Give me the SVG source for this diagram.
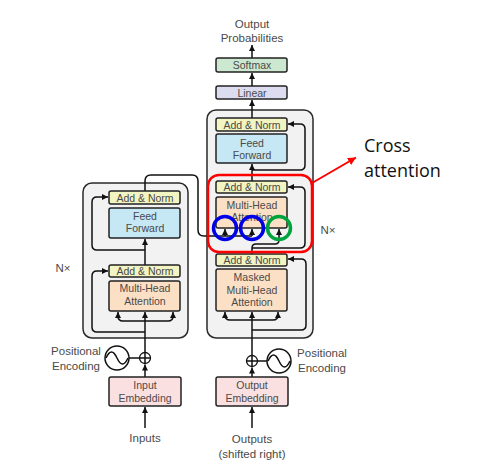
<svg xmlns="http://www.w3.org/2000/svg" width="493" height="474" viewBox="0 0 493 474">
<defs>
<marker id="ah" markerUnits="userSpaceOnUse" markerWidth="7" markerHeight="6" refX="6" refY="3" orient="auto"><path d="M0,0 L6,3 L0,6 z" fill="#111"/></marker>
<marker id="rh" markerUnits="userSpaceOnUse" markerWidth="9" markerHeight="8" refX="8" refY="4" orient="auto"><path d="M0,0 L8,4 L0,8 z" fill="#f00"/></marker>
<style>
.stack{fill:#f2f2f2;stroke:#2a2a2a;stroke-width:1.5}
.box{stroke:#222;stroke-width:1.5}
.an{fill:#f2f4c2}
.ff{fill:#c6e7f4}
.mha{fill:#fce0c5}
.lin{fill:#dcdcf1}
.sm{fill:#cde8d1}
.emb{fill:#fbe0e1}
text{font-family:"Liberation Sans",Arial,sans-serif;fill:#4a4a4a;text-anchor:middle}
.t{font-size:10.5px}
.l{font-size:11.5px}
.w{fill:none;stroke:#111;stroke-width:1.5}
.a{fill:none;stroke:#111;stroke-width:1.5;marker-end:url(#ah)}
</style>
</defs>
<rect width="493" height="474" fill="#fff"/>

<g id="encoder-stack"><rect class="stack" x="83" y="183" width="105" height="155" rx="9"/></g>
<g id="decoder-stack"><rect class="stack" x="207" y="110" width="106" height="228" rx="9"/></g>

<g id="connectors">
<!-- encoder -->
<path class="a" d="M145,428 V407"/>
<path class="a" d="M145,377 V364.5"/>
<path class="a" d="M145,352.5 V312"/>
<path class="a" d="M145,332 H97 Q92,332 92,327 V276 Q92,271 97,271 H108"/>
<path class="w" d="M145,321 H123 Q118,321 118,316"/>
<path class="a" d="M118,318 V312"/>
<path class="w" d="M145,321 H168 Q173,321 173,316"/>
<path class="a" d="M173,318 V312"/>
<path class="a" d="M145,265 V239"/>
<path class="a" d="M145,250 H97 Q92,250 92,245 V202 Q92,197 97,197 H108"/>
<path class="w" d="M145,191 V181 Q145,175 151,175 H192 Q198,175 198,181 V230 Q198,236 204,236 H252"/>
<path class="a" d="M225,236 V229"/>
<path class="a" d="M252,236 V229"/>
<!-- decoder -->
<path class="a" d="M252,428 V407"/>
<path class="a" d="M252,377 V367.5"/>
<path class="a" d="M252,355.5 V312"/>
<path class="a" d="M252,330 H301 Q306,330 306,325 V264 Q306,259 301,259 H288"/>
<path class="w" d="M252,320 H230 Q225,320 225,315"/>
<path class="a" d="M225,317 V312"/>
<path class="w" d="M252,320 H273 Q278,320 278,315"/>
<path class="a" d="M278,317 V312"/>
<path class="w" d="M252,254 V248 Q252,244 256,244 H275 Q279,244 279,240"/>
<path class="a" d="M279,241 V229"/>
<path class="a" d="M252,248 H300 Q305,248 305,243 V192 Q305,187 300,187 H288"/>
<path class="a" d="M252,181 V164"/>
<path class="a" d="M252,170 H300 Q305,170 305,165 V129 Q305,124 300,124 H288"/>
<path class="a" d="M252,118 V100"/>
<path class="a" d="M252,86 V73"/>
<path class="a" d="M252,58 V45"/>
</g>

<g id="enc-addnorm2"><rect class="box an" x="109" y="191" width="71" height="13" rx="2"/><text class="t" x="145" y="201.5">Add &amp; Norm</text></g>
<g id="enc-ff"><rect class="box ff" x="109" y="208" width="71" height="30" rx="2"/><text class="t" x="145" y="220">Feed</text><text class="t" x="145" y="232">Forward</text></g>
<g id="enc-addnorm1"><rect class="box an" x="109" y="265" width="71" height="12" rx="2"/><text class="t" x="145" y="275">Add &amp; Norm</text></g>
<g id="enc-mha"><rect class="box mha" x="109" y="281" width="71" height="30" rx="2"/><text class="t" x="145" y="292">Multi-Head</text><text class="t" x="145" y="305">Attention</text></g>

<g id="dec-addnorm3"><rect class="box an" x="216" y="118" width="71" height="13" rx="2"/><text class="t" x="252" y="128.5">Add &amp; Norm</text></g>
<g id="dec-ff"><rect class="box ff" x="216" y="134" width="71" height="29" rx="2"/><text class="t" x="252" y="147">Feed</text><text class="t" x="252" y="158.5">Forward</text></g>
<g id="dec-addnorm2"><rect class="box an" x="216" y="181" width="71" height="12" rx="2"/><text class="t" x="252" y="191">Add &amp; Norm</text></g>
<g id="dec-mha"><rect class="box mha" x="216" y="197" width="71" height="31" rx="2"/><text class="t" x="252" y="209">Multi-Head</text><text class="t" x="252" y="221">Attention</text></g>
<g id="dec-addnorm1"><rect class="box an" x="216" y="254" width="71" height="12" rx="2"/><text class="t" x="252" y="264">Add &amp; Norm</text></g>
<g id="dec-masked"><rect class="box mha" x="216" y="269" width="71" height="42" rx="2"/><text class="t" x="252" y="281">Masked</text><text class="t" x="252" y="294">Multi-Head</text><text class="t" x="252" y="306">Attention</text></g>

<g id="linear"><rect class="box lin" x="216" y="86" width="71" height="13" rx="2"/><text class="t" x="252" y="96.5">Linear</text></g>
<g id="softmax"><rect class="box sm" x="216" y="58" width="71" height="14" rx="2"/><text class="t" x="252" y="68.5">Softmax</text></g>
<g id="out-prob"><text class="l" x="252" y="28">Output</text><text class="l" x="252" y="42">Probabilities</text></g>

<g id="input-emb"><rect class="box emb" x="109" y="377" width="72" height="29" rx="2"/><text class="t" x="145" y="389">Input</text><text class="t" x="145" y="402">Embedding</text></g>
<g id="output-emb"><rect class="box emb" x="216" y="377" width="72" height="29" rx="2"/><text class="t" x="252" y="389">Output</text><text class="t" x="252" y="402">Embedding</text></g>
<g id="inputs"><text class="l" x="145" y="442">Inputs</text></g>
<g id="outputs"><text class="l" x="252" y="443">Outputs</text><text class="l" x="252" y="458">(shifted right)</text></g>

<g id="enc-pe">
<circle cx="117" cy="358" r="12" fill="#fff" stroke="#111" stroke-width="1.5"/>
<path class="w" d="M106,358 Q111.5,346 117,358 Q122.5,370 128,358"/>
<path class="w" d="M129,358 H139.5"/>
<circle cx="145" cy="358" r="5.5" fill="#fff" stroke="#111" stroke-width="1.3"/>
<path class="w" stroke-width="1.2" d="M139.5,358 H150.5 M145,352.5 V363.5"/>
<text class="l" x="76" y="355">Positional</text><text class="l" x="76" y="370">Encoding</text>
</g>
<g id="dec-pe">
<circle cx="279" cy="361" r="12" fill="#fff" stroke="#111" stroke-width="1.5"/>
<path class="w" d="M268,361 Q273.5,349 279,361 Q284.5,373 290,361"/>
<path class="w" d="M257.5,361 H267"/>
<circle cx="252" cy="361" r="5.5" fill="#fff" stroke="#111" stroke-width="1.3"/>
<path class="w" stroke-width="1.2" d="M246.5,361 H257.5 M252,355.5 V366.5"/>
<text class="l" x="322" y="357">Positional</text><text class="l" x="322" y="372">Encoding</text>
</g>

<g id="nx-left"><text class="l" x="63" y="272">N×</text></g>
<g id="nx-right"><text class="l" x="328" y="234">N×</text></g>

<g id="highlight">
<rect x="208" y="175" width="104" height="77" rx="11" fill="none" stroke="#f00" stroke-width="2.5"/>
<circle cx="225" cy="228" r="11.5" fill="none" stroke="#0000e6" stroke-width="3.5"/>
<circle cx="252" cy="228" r="11.5" fill="none" stroke="#0000e6" stroke-width="3.5"/>
<circle cx="279" cy="228" r="11.5" fill="none" stroke="#00a33c" stroke-width="3.5"/>
<path d="M312,183 L356,157.5" stroke="#f00" stroke-width="2" fill="none" marker-end="url(#rh)"/>
<text x="364" y="152" style="font-family:'Open Sans','Noto Sans',sans-serif;font-size:18px;fill:#111;text-anchor:start">Cross</text>
<text x="364" y="177" style="font-family:'Open Sans','Noto Sans',sans-serif;font-size:18px;fill:#111;text-anchor:start">attention</text>
</g>
</svg>
